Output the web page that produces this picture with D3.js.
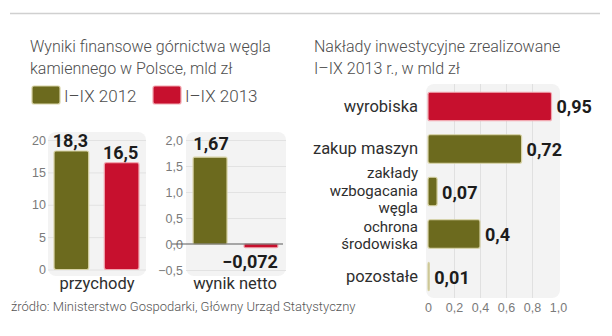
<!DOCTYPE html>
<html>
<head>
<meta charset="utf-8">
<script src="https://cdn.jsdelivr.net/npm/d3@7"></script>
<style>
  html, body { margin: 0; padding: 0; background: #fff; }
  svg { display: block; font-family: Roboto, "Noto Sans", sans-serif; }
  .title { font-weight: 300; font-size: 16px; fill: #4d4d4d; }
  .legend-label { font-weight: 300; font-size: 17px; fill: #4d4d4d; }
  .tick text { font-weight: 300; font-size: 12.5px; fill: #7a7a7a; }
  .val { font-weight: 700; font-size: 18px; fill: #1c1c1c; }
  .cat { font-weight: 400; font-size: 16.5px; fill: #2e2e2e; }
  .cat-multi { font-size: 15px; }
  .src { font-weight: 300; font-size: 13px; fill: #555; }
</style>
</head>
<body>
<svg id="chart" width="612" height="336"></svg>
<script>
// Wyniki finansowe górnictwa węgla kamiennego (mld zł)
const years = ["I–IX 2012", "I–IX 2013"];
const revenue = [18.3, 16.5];          // przychody
const netResult = [1.67, -0.072];      // wynik netto
const revenueTicks = [0, 5, 10, 15, 20];
const netTicks = [-0.5, 0, 0.5, 1, 1.5, 2];

// Nakłady inwestycyjne I–IX 2013 (mld zł)
const investCategories = [
  ["wyrobiska"],
  ["zakup maszyn"],
  ["zakłady", "wzbogacania", "węgla"],
  ["ochrona", "środowiska"],
  ["pozostałe"]
];
const investValues = [0.95, 0.72, 0.07, 0.4, 0.01];
const investTicks = [0, 0.2, 0.4, 0.6, 0.8, 1.0];

const OLIVE = "#6c6a1e", OLIVE_EDGE = "#d8d3a6";
const RED = "#c7102e", RED_EDGE = "#f1a7b0";
const seriesFill = [OLIVE, RED];
const seriesEdge = [OLIVE_EDGE, RED_EDGE];

const pl = d3.formatLocale({decimal: ",", thousands: " ", grouping: [3], currency: ["", " zł"]});
const f1 = pl.format(".1f");
const fmtVal = v => {
  const s = String(Math.abs(v));
  const dec = s.includes(".") ? s.split(".")[1].length : 0;
  return pl.format("." + dec + "f")(v);
};

const svg = d3.select("#chart");

// top rule
svg.append("line").attr("x1", 10).attr("x2", 600).attr("y1", 13.5).attr("y2", 13.5)
  .attr("stroke", "#d0d0d0").attr("stroke-width", 1.5);

// titles
const t1 = svg.append("text").attr("class", "title").attr("x", 30).attr("y", 52);
t1.append("tspan").attr("x", 30).text("Wyniki finansowe górnictwa węgla");
t1.append("tspan").attr("x", 30).attr("dy", 22).text("kamiennego w Polsce, mld zł");

const t2 = svg.append("text").attr("class", "title").attr("x", 314).attr("y", 52);
t2.append("tspan").attr("x", 314).text("Nakłady inwestycyjne zrealizowane");
t2.append("tspan").attr("x", 314).attr("dy", 22).text("I–IX 2013 r., w mld zł");

// legend
const legend = svg.append("g");
const legendX = [32, 153];
years.forEach((y, i) => {
  legend.append("rect").attr("x", legendX[i]).attr("y", 86).attr("width", 28).attr("height", 18)
    .attr("rx", 2).attr("fill", seriesFill[i]).attr("stroke", seriesEdge[i]).attr("stroke-width", 1.2);
  legend.append("text").attr("class", "legend-label").attr("x", legendX[i] + 32).attr("y", 101.5).text(y);
});

// ---- przychody ----
const yRev = d3.scaleLinear().domain([0, 20]).range([269.5, 140]);
const xRev = d3.scaleBand().domain(years).range([49, 144]).paddingInner(0.31).paddingOuter(0.1);

svg.append("rect").attr("x", 48).attr("y", 132).attr("width", 98).attr("height", 144)
  .attr("rx", 8).attr("fill", "#f3f3f3");

const gRevGrid = svg.append("g").attr("transform", "translate(146,0)")
  .call(d3.axisLeft(yRev).tickValues(revenueTicks).tickSize(98).tickFormat(""));
gRevGrid.select(".domain").remove();
gRevGrid.selectAll(".tick line").attr("stroke", "#e2e2e2");

const gRevAxis = svg.append("g").attr("transform", "translate(47,0)")
  .call(d3.axisLeft(yRev).tickValues(revenueTicks).tickSize(0).tickPadding(1).tickFormat(d => d));
gRevAxis.select(".domain").remove();

svg.append("g").selectAll("rect").data(revenue).join("rect")
  .attr("x", (d, i) => xRev(years[i])).attr("width", xRev.bandwidth())
  .attr("y", d => yRev(d)).attr("height", d => yRev(0) - yRev(d))
  .attr("rx", 2).attr("fill", (d, i) => seriesFill[i])
  .attr("stroke", (d, i) => seriesEdge[i]).attr("stroke-width", 1.2);

svg.append("g").selectAll("text").data(revenue).join("text").attr("class", "val")
  .attr("text-anchor", "middle")
  .attr("x", (d, i) => xRev(years[i]) + xRev.bandwidth() / 2 - 1)
  .attr("y", d => yRev(d) - 4)
  .text(d => fmtVal(d));

svg.append("text").attr("class", "cat").attr("font-size", 17).attr("text-anchor", "middle")
  .attr("x", 97).attr("y", 289).text("przychody");

// ---- wynik netto ----
const yNet = d3.scaleLinear().domain([-0.5, 2]).range([270, 140]);
const xNet = d3.scaleBand().domain(years).range([188, 283]).paddingInner(0.333).paddingOuter(0.1);

svg.append("rect").attr("x", 186).attr("y", 132).attr("width", 100).attr("height", 144)
  .attr("rx", 8).attr("fill", "#f3f3f3");

const gNetGrid = svg.append("g").attr("transform", "translate(286,0)")
  .call(d3.axisLeft(yNet).tickValues(netTicks.filter(d => d !== 0)).tickSize(100).tickFormat(""));
gNetGrid.select(".domain").remove();
gNetGrid.selectAll(".tick line").attr("stroke", "#e2e2e2");

const gNetAxis = svg.append("g").attr("transform", "translate(184,0)")
  .call(d3.axisLeft(yNet).tickValues(netTicks).tickSize(0).tickPadding(1).tickFormat(f1));
gNetAxis.select(".domain").remove();

svg.append("g").selectAll("rect").data(netResult).join("rect")
  .attr("x", (d, i) => xNet(years[i])).attr("width", xNet.bandwidth())
  .attr("y", d => yNet(Math.max(0, d))).attr("height", d => Math.abs(yNet(d) - yNet(0)))
  .attr("rx", 1.5).attr("fill", (d, i) => seriesFill[i])
  .attr("stroke", (d, i) => seriesEdge[i]).attr("stroke-width", 1.2);

svg.append("line").attr("x1", 172).attr("x2", 283)
  .attr("y1", yNet(0)).attr("y2", yNet(0)).attr("stroke", "#5a5a5a").attr("stroke-width", 1.2);

svg.append("g").selectAll("text").data(netResult).join("text").attr("class", "val")
  .attr("text-anchor", (d) => d >= 0 ? "middle" : "end")
  .attr("x", (d, i) => d >= 0 ? xNet(years[i]) + xNet.bandwidth() / 2 + 1 : xNet(years[i]) + xNet.bandwidth())
  .attr("y", d => d >= 0 ? yNet(d) - 7 : yNet(d) + 20)
  .text(d => fmtVal(d));

svg.append("text").attr("class", "cat").attr("font-size", 17).attr("text-anchor", "middle")
  .attr("x", 235).attr("y", 289).text("wynik netto");

// ---- nakłady inwestycyjne ----
const catKeys = investCategories.map(c => c.join(" "));
const xInv = d3.scaleLinear().domain([0, 1]).range([428, 558]);
const yInv = d3.scaleBand().domain(catKeys).range([85, 298]).paddingInner(0.33).paddingOuter(0.17);

svg.append("rect").attr("x", 426).attr("y", 84).attr("width", 134).attr("height", 214)
  .attr("rx", 8).attr("fill", "#f3f3f3");

const gInvGrid = svg.append("g").attr("transform", "translate(0,298)")
  .call(d3.axisBottom(xInv).tickValues(investTicks.filter(d => d > 0 && d < 1)).tickSize(-214).tickFormat(""));
gInvGrid.select(".domain").remove();
gInvGrid.selectAll(".tick line").attr("stroke", "#e0e0e0");

const gInvAxis = svg.append("g").attr("transform", "translate(0,301)")
  .call(d3.axisBottom(xInv).tickValues(investTicks).tickSize(0).tickPadding(2)
    .tickFormat(d => d === 0 ? "0" : f1(d)));
gInvAxis.select(".domain").remove();

const invColor = i => i === 0 ? RED : OLIVE;
const invEdge = i => i === 0 ? RED_EDGE : OLIVE_EDGE;

svg.append("g").selectAll("rect").data(investValues).join("rect")
  .attr("x", xInv(0)).attr("y", (d, i) => yInv(catKeys[i]))
  .attr("width", d => xInv(d) - xInv(0)).attr("height", yInv.bandwidth())
  .attr("rx", 2).attr("fill", (d, i) => invColor(i))
  .attr("stroke", (d, i) => invEdge(i)).attr("stroke-width", 1.2);

svg.append("g").selectAll("text").data(investValues).join("text").attr("class", "val")
  .attr("x", d => xInv(d) + 5)
  .attr("y", (d, i) => yInv(catKeys[i]) + yInv.bandwidth() / 2 + 7)
  .text(d => fmtVal(d));

// category names; wrapped ones use a smaller size with clear line spacing
const lh = 17.5;
const firstBaseline = (c, i) => {
  const mid = yInv(catKeys[i]) + yInv.bandwidth() / 2;
  const shift = c.length === 3 ? 4 : c.length === 2 ? 6.5 : 5.5;
  return mid + shift - (c.length - 1) * lh / 2;
};
const catText = svg.append("g").selectAll("text").data(investCategories).join("text")
  .attr("class", c => c.length > 1 ? "cat cat-multi" : "cat").attr("text-anchor", "end")
  .attr("y", (c, i) => firstBaseline(c, i));
catText.selectAll("tspan").data(c => c).join("tspan")
  .attr("x", 418).attr("dy", (d, j) => j === 0 ? 0 : lh).text(d => d);

// source
svg.append("text").attr("class", "src").attr("x", 11).attr("y", 311)
  .text("źródło: Ministerstwo Gospodarki, Główny Urząd Statystyczny");
</script>
</body>
</html>
